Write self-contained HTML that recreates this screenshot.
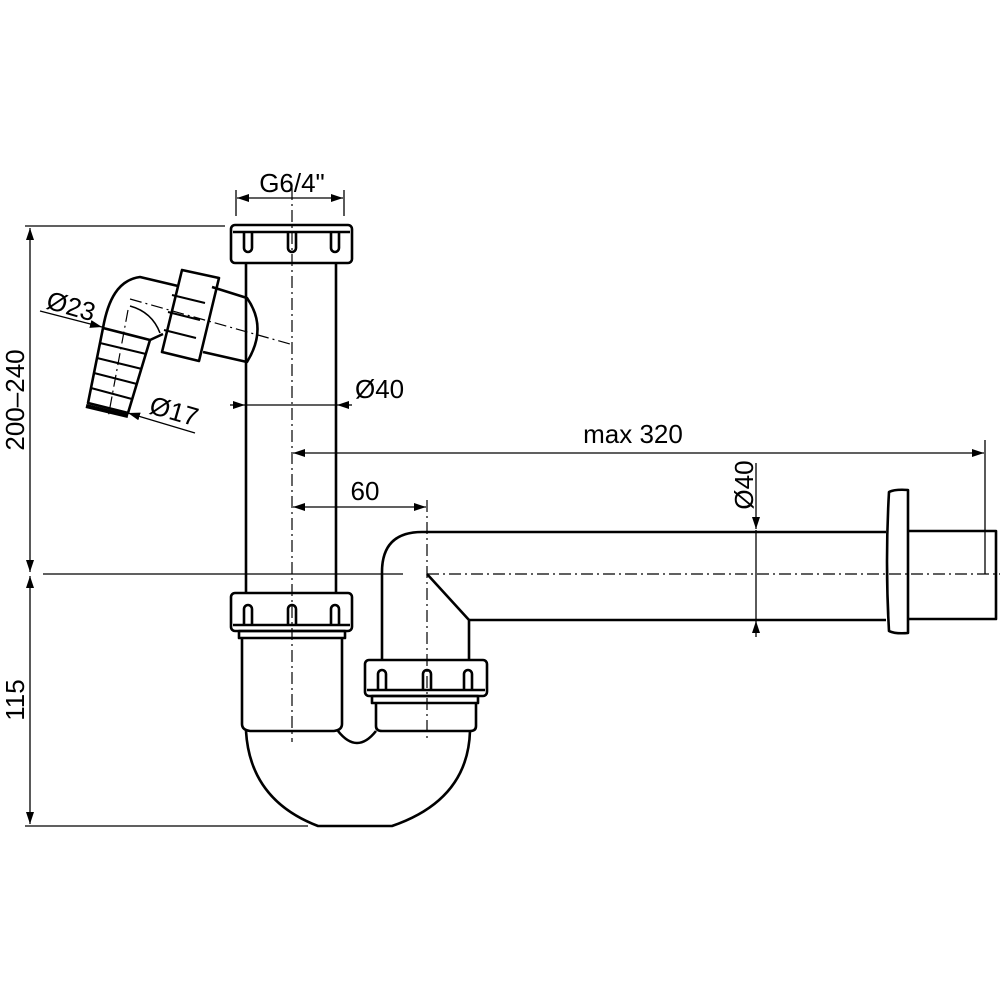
<!DOCTYPE html>
<html><head><meta charset="utf-8"><style>
html,body{margin:0;padding:0;background:#fff}
svg{display:block}
text{font-family:"Liberation Sans Narrow","Liberation Sans",sans-serif;font-size:26px;fill:#000}
</style></head><body>
<svg width="1000" height="1000" viewBox="0 0 1000 1000" xmlns="http://www.w3.org/2000/svg">
<defs>
<marker id="a" viewBox="0 0 12 8" refX="12" refY="4" markerWidth="12" markerHeight="8" markerUnits="userSpaceOnUse" orient="auto"><path d="M0,0 L12,4 L0,8 z" fill="#000"/></marker>
<marker id="b" viewBox="0 0 12 8" refX="0" refY="4" markerWidth="12" markerHeight="8" markerUnits="userSpaceOnUse" orient="auto"><path d="M12,0 L0,4 L12,8 z" fill="#000"/></marker>
</defs>
<g fill="none" stroke="#000">
<g stroke-width="1.3">
<line x1="25" y1="226" x2="225" y2="226"/>
<line x1="43" y1="574" x2="403" y2="574"/>
<line x1="25" y1="826" x2="308" y2="826"/>
<line x1="30" y1="228" x2="30" y2="572" marker-start="url(#b)" marker-end="url(#a)"/>
<line x1="30" y1="576" x2="30" y2="824" marker-start="url(#b)" marker-end="url(#a)"/>
<line x1="236" y1="190" x2="236" y2="216"/>
<line x1="344" y1="190" x2="344" y2="216"/>
<line x1="237" y1="198" x2="343" y2="198" marker-start="url(#b)" marker-end="url(#a)"/>
<line x1="230" y1="405" x2="245" y2="405" marker-end="url(#a)"/>
<line x1="246" y1="405" x2="336" y2="405"/>
<line x1="352" y1="405" x2="337" y2="405" marker-end="url(#a)"/>
<line x1="293" y1="453" x2="984" y2="453" marker-start="url(#b)" marker-end="url(#a)"/>
<line x1="985" y1="440" x2="985" y2="574"/>
<line x1="293" y1="507" x2="426" y2="507" marker-start="url(#b)" marker-end="url(#a)"/>
<line x1="756" y1="463" x2="756" y2="529" marker-end="url(#a)"/>
<line x1="756" y1="530" x2="756" y2="620"/>
<line x1="756" y1="637" x2="756" y2="621" marker-end="url(#a)"/>
<line x1="40" y1="311" x2="102" y2="327" marker-end="url(#a)"/>
<line x1="195" y1="433" x2="128" y2="413" marker-end="url(#a)"/>
</g>
<g stroke-width="1.2" stroke-dasharray="12 4 2 4">
<line x1="292" y1="188" x2="292" y2="742"/>
<line x1="427" y1="500" x2="427" y2="742"/>
<line x1="427" y1="574" x2="1000" y2="574"/>
<line x1="130" y1="299" x2="290" y2="344"/>
<line x1="128" y1="310" x2="108" y2="418"/>
</g>
<g stroke-width="2.6" stroke-linejoin="round">
<line x1="246" y1="263" x2="246" y2="593"/>
<line x1="336" y1="263" x2="336" y2="593"/>
<rect x="231" y="225" width="121" height="38" rx="4"/>
<line x1="233" y1="232" x2="350" y2="232"/>
<path d="M244,232 v16 a4,4 0 0 0 8,0 v-16 M288,232 v16 a4,4 0 0 0 8,0 v-16 M331,232 v16 a4,4 0 0 0 8,0 v-16"/>
<rect x="231" y="593" width="121" height="38" rx="4"/>
<line x1="233" y1="625" x2="350" y2="625"/>
<path d="M244,625 v-16 a4,4 0 0 1 8,0 v16 M288,625 v-16 a4,4 0 0 1 8,0 v16 M331,625 v-16 a4,4 0 0 1 8,0 v16"/>
<rect x="239" y="631" width="106" height="7"/>
<path d="M242,638 V724 Q242,730 250,731 H334 Q342,730 342,724 V638"/>
<path d="M246,731 Q250,800 318,826 H392 Q468,800 470,731"/>
<path d="M338,731 Q357,755 376,731"/>
<rect x="365" y="660" width="122" height="36" rx="4"/>
<line x1="367" y1="690" x2="485" y2="690"/>
<path d="M378,690 v-16 a4,4 0 0 1 8,0 v16 M423,690 v-16 a4,4 0 0 1 8,0 v16 M464,690 v-16 a4,4 0 0 1 8,0 v16"/>
<rect x="372" y="696" width="106" height="7"/>
<path d="M376,703 V726 Q376,731 382,731 H470 Q476,731 476,726 V703"/>
<path d="M382,660 V572 Q382,532 422,532 H886"/>
<path d="M469,660 V620 L427,574"/>
<line x1="469" y1="620" x2="886" y2="620"/>
<path d="M908,531 H996 V619 H908"/>
<path d="M889,492 Q895,489 908,490 V633 Q895,634 889,631 Q885,562 889,492 Z"/>
<path d="M212,287 L247,298 Q268,328 247,362 L203,352"/>
<path d="M103,328 C108,300 118,280 140,277 L178,286"/>
<path d="M150,340 L163,334"/>
<path d="M160,333 Q152,312 130,306" stroke-width="1.6"/>
<path d="M182,270 L219,278 L199,361 L162,352 Z"/>
<path d="M172,295 L205,303 M168,312 L200,320 M164,330 L196,338" stroke-width="2"/>
<path d="M103,328 L150,340 L128,413 L88,403 Z"/>
<path d="M100,343 L146,354 M97,358 L142,369 M94,373 L137,384 M91,388 L132,399" stroke-width="2"/>
<path d="M86,406 L128,416" stroke-width="4"/>
</g>
</g>
<text x="292" y="192" text-anchor="middle">G6/4"</text>
<text x="355" y="398">Ø40</text>
<text x="633" y="443" text-anchor="middle">max 320</text>
<text x="365" y="500" text-anchor="middle">60</text>
<text transform="translate(753,485) rotate(-90)" text-anchor="middle">Ø40</text>
<text transform="translate(24,400) rotate(-90)" text-anchor="middle">200–240</text>
<text transform="translate(24,700) rotate(-90)" text-anchor="middle">115</text>
<text transform="translate(45,308) rotate(16)">Ø23</text>
<text transform="translate(148,413) rotate(16)">Ø17</text>
</svg>
</body></html>
